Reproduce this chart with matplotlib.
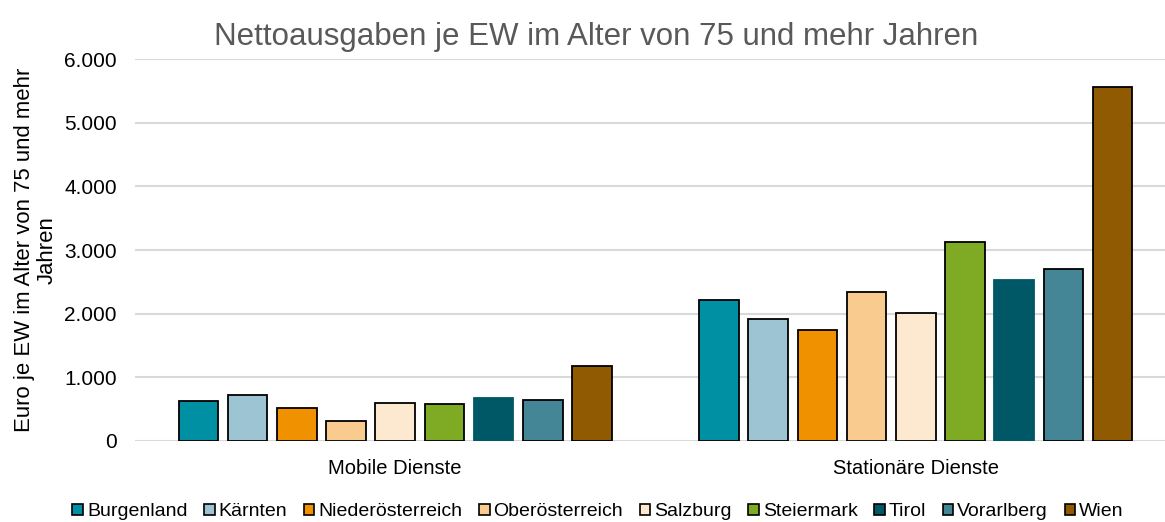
import matplotlib.pyplot as plt
import numpy as np
from matplotlib.patches import Patch
from matplotlib.ticker import FuncFormatter

plt.rcParams['font.family'] = ['Liberation Sans', 'DejaVu Sans']

categories = ["Mobile Dienste", "Stationäre Dienste"]
regions = ["Burgenland", "Kärnten", "Niederösterreich", "Oberösterreich", "Salzburg",
           "Steiermark", "Tirol", "Vorarlberg", "Wien"]
mobile = [629, 730, 525, 315, 598, 577, 682, 640, 1175]
stationaer = [2212, 1914, 1751, 2343, 2003, 3129, 2527, 2695, 5557]
colors = ["#0090A4", "#9DC4D2", "#F09200", "#F9CB8E", "#FDE9D0",
          "#7FAB24", "#005866", "#448596", "#8F5A02"]
edges = ["black"] * 9
edges[6] = "#005866"  # Tirol has no visible outline

fig = plt.figure(figsize=(11.65, 5.22), dpi=100)
W, H = 1165, 522
ax = fig.add_axes([135 / W, 81 / H, (1176 - 135) / W, (441 - 59) / H])

x = np.arange(len(categories))
pitch = 0.0945
width = 0.076
for j, name in enumerate(regions):
    vals = [mobile[j], stationaer[j]]
    ax.bar(x + (j - 4) * pitch, vals, width, color=colors[j], edgecolor=edges[j],
           linewidth=1.3, zorder=3)

ax.set_xlim(-0.5, 1.5)
ax.set_ylim(0, 6000)
ax.set_yticks(np.arange(0, 6001, 1000))
ax.yaxis.set_major_formatter(FuncFormatter(lambda v, p: f"{int(v):,}".replace(",", ".")))
ax.set_xticks(x)
ax.set_xticklabels(categories, fontsize=14.5)
ax.tick_params(axis='y', labelsize=15, length=0, pad=13)
ax.tick_params(axis='x', length=0, pad=13)
ax.grid(axis='y', color="#D9D9D9", linewidth=1.5, zorder=0)
for s in ax.spines.values():
    s.set_visible(False)

ax.set_ylabel("Euro je EW im Alter von 75 und mehr\nJahren", fontsize=15.9, linespacing=1.12)
ax.yaxis.set_label_coords(-0.074, 0.5)

fig.text(596 / W, 1 - 37 / H, "Nettoausgaben je EW im Alter von 75 und mehr Jahren",
         ha='center', va='center', fontsize=22.5, color="#595959")

handles = [Patch(facecolor=c, edgecolor='black', linewidth=1.2) for c in colors]
fig.legend(handles, regions, loc='center', bbox_to_anchor=(598 / W, 1 - 512 / H), ncol=9,
           frameon=False, fontsize=14, handlelength=0.55, handleheight=0.55,
           handletextpad=0.2, columnspacing=0.85, borderaxespad=0)

fig.savefig("out.png", dpi=100)
